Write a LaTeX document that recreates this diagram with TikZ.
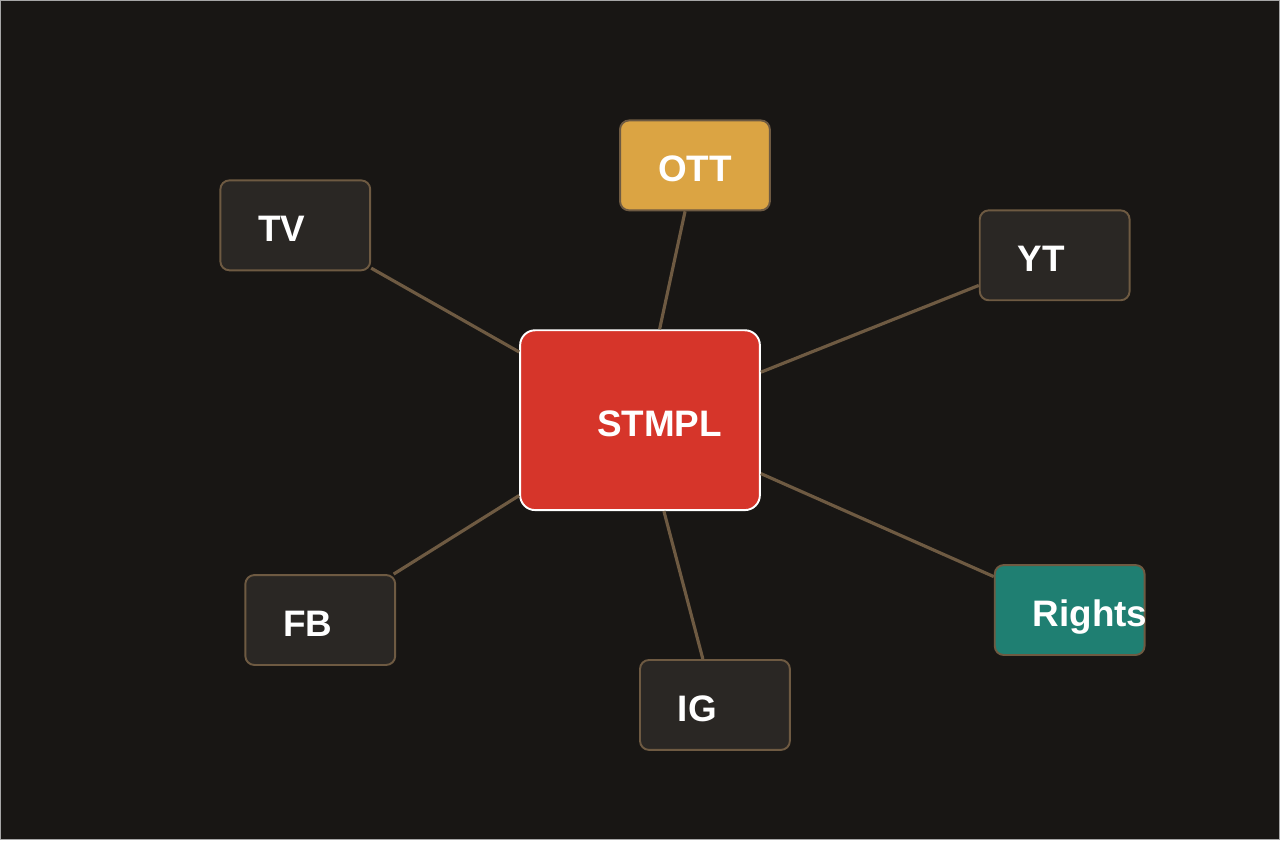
\documentclass[tikz,border=0pt]{standalone}
\usepackage{fontspec}
\setmainfont{Liberation Sans}
\usetikzlibrary{positioning}

\definecolor{bgdark}{HTML}{181614}
\definecolor{boxdark}{HTML}{2A2724}
\definecolor{edgebrown}{HTML}{6E5A42}
\definecolor{hubred}{HTML}{D6352A}
\definecolor{ottgold}{HTML}{DBA443}
\definecolor{rightsteal}{HTML}{1F7F72}

\begin{document}
\begin{tikzpicture}[
        x=0.02cm, y=-0.02cm,
        channel/.style={rectangle, rounded corners=0.18cm, draw=edgebrown, line width=1.1pt, fill=boxdark,
            minimum width=3cm, minimum height=1.8cm, text width=1.48cm, inner xsep=0.76cm,
            text height=6.6mm, text depth=0pt, align=left, text=white,
            font=\fontsize{21pt}{24pt}\selectfont\bfseries},
        hub/.style={channel, rounded corners=0.3cm, draw=white, fill=hubred,
            minimum width=4.8cm, minimum height=3.6cm, text width=1.72cm, inner xsep=1.54cm},
        link/.style={edgebrown, line width=1.8pt}
    ]
        \fill[bgdark] (0,0) rectangle (1280,840);
        \draw[gray!70, line width=0.6pt] (0,0) rectangle (1280,840);
        \node[hub] (stmpl) at (640,420) {STMPL};
        \node[channel, fill=ottgold] (ott) at (695,165) {OTT};
        \node[channel] (tv) at (295,225) {TV};
        \node[channel] (yt) at (1055,255) {YT};
        \node[channel] (fb) at (320,620) {FB};
        \node[channel] (ig) at (715,705) {IG};
        \node[channel, fill=rightsteal] (rights) at (1070,610) {Rights};
        \draw[link] (stmpl) -- (ott);
        \draw[link] (stmpl) -- (tv);
        \draw[link] (stmpl) -- (yt);
        \draw[link] (stmpl) -- (fb);
        \draw[link] (stmpl) -- (ig);
        \draw[link] (stmpl) -- (rights);
    \end{tikzpicture}
\end{document}
